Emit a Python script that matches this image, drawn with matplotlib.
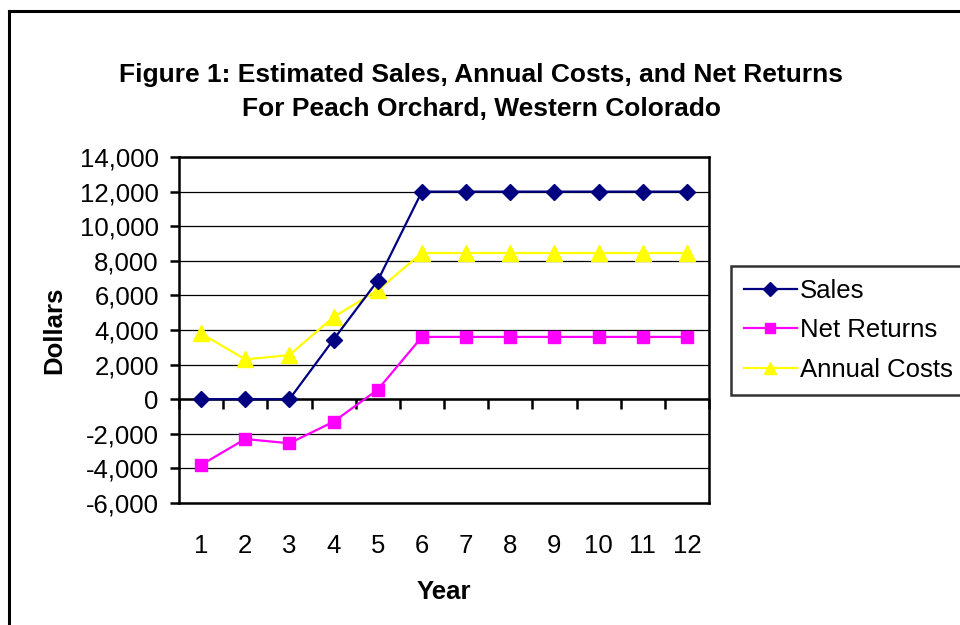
import matplotlib
matplotlib.use("Agg")
import matplotlib.pyplot as plt
from matplotlib.lines import Line2D
from matplotlib.ticker import FuncFormatter

years = [1, 2, 3, 4, 5, 6, 7, 8, 9, 10, 11, 12]
sales = [0, 0, 0, 3450, 6850, 12000, 12000, 12000, 12000, 12000, 12000, 12000]
net_returns = [-3800, -2300, -2550, -1300, 550, 3600, 3600, 3600, 3600, 3600, 3600, 3600]
annual_costs = [3800, 2300, 2550, 4750, 6300, 8450, 8450, 8450, 8450, 8450, 8450, 8450]
y_ticks = [-6000, -4000, -2000, 0, 2000, 4000, 6000, 8000, 10000, 12000, 14000]

title = "Figure 1: Estimated Sales, Annual Costs, and Net Returns\nFor Peach Orchard, Western Colorado"

plt.rcParams['font.family'] = ['Liberation Sans', 'DejaVu Sans']

fig = plt.figure(figsize=(9.6, 6.25), dpi=100)
W, H = 960, 625
FS = 18.5

# plot area in pixels: left 179, right 709, top 157, bottom 503
ax = fig.add_axes([179 / W, 1 - 503 / H, (709 - 179) / W, (503 - 157) / H])

ax.plot(years, sales, color='#000080', lw=1.6, marker='D', ms=8.5,
        mfc='#000080', mec='#000080', label='Sales', zorder=5)
ax.plot(years, net_returns, color='#FF00FF', lw=1.6, marker='s', ms=9,
        mfc='#FF00FF', mec='#FF00FF', label='Net Returns', zorder=4)
ax.plot(years, annual_costs, color='#FFFF00', lw=1.6, marker='^', ms=11,
        mfc='#FFFF00', mec='#FFFF00', label='Annual Costs', zorder=3)

ax.set_xlim(0.5, 12.5)
ax.set_ylim(-6000, 14000)
ax.set_yticks(y_ticks)
ax.yaxis.set_major_formatter(FuncFormatter(lambda v, p: f"{int(v):,}"))
ax.set_xticks(years)
ax.set_xticklabels([str(y) for y in years])

ax.grid(axis='y', color='black', lw=0.9)
ax.set_axisbelow(True)
for s in ax.spines.values():
    s.set_color('black')
    s.set_linewidth(1.8)

ax.tick_params(axis='y', direction='out', length=6.5, width=1.8, labelsize=FS, pad=8)
ax.tick_params(axis='x', length=0, labelsize=FS, pad=22)

# zero line with category tick marks
ax.axhline(0, color='black', lw=1.8, zorder=2)
boundaries = [y - 0.5 for y in years] + [12.5]
ax.plot(boundaries, [0] * len(boundaries), ls='none', marker=3, ms=7,
        mew=1.8, color='black', zorder=2, clip_on=False)

ax.set_ylabel('Dollars', fontsize=FS, fontweight='bold', labelpad=10)
ax.set_xlabel('Year', fontsize=FS, fontweight='bold', labelpad=16)

fig.text(481 / W, 1 - 92 / H, title, ha='center', va='center',
         fontsize=19, fontweight='bold', linespacing=1.5)

handles = [
    Line2D([], [], color='#000080', lw=1.6, marker='D', ms=7, mfc='#000080', mec='#000080'),
    Line2D([], [], color='#FF00FF', lw=1.6, marker='s', ms=7, mfc='#FF00FF', mec='#FF00FF'),
    Line2D([], [], color='#FFFF00', lw=1.6, marker='^', ms=9, mfc='#FFFF00', mec='#FFFF00'),
]
leg = fig.legend(handles, ['Sales', 'Net Returns', 'Annual Costs'],
                 loc='upper left', bbox_to_anchor=(731 / W, 1 - 266 / H),
                 fontsize=FS, frameon=True, fancybox=False, edgecolor='black',
                 handlelength=2.05, handletextpad=0.12, borderpad=0.5,
                 labelspacing=0.6, borderaxespad=0)
leg.get_frame().set_linewidth(1.8)

# outer chart border (left and top visible)
fig.add_artist(Line2D([9 / W, 9 / W], [0, 1 - 11 / H], color='black', lw=2.2))
fig.add_artist(Line2D([9 / W, 1], [1 - 11 / H, 1 - 11 / H], color='black', lw=2.2))

fig.savefig('out.png', dpi=100)
